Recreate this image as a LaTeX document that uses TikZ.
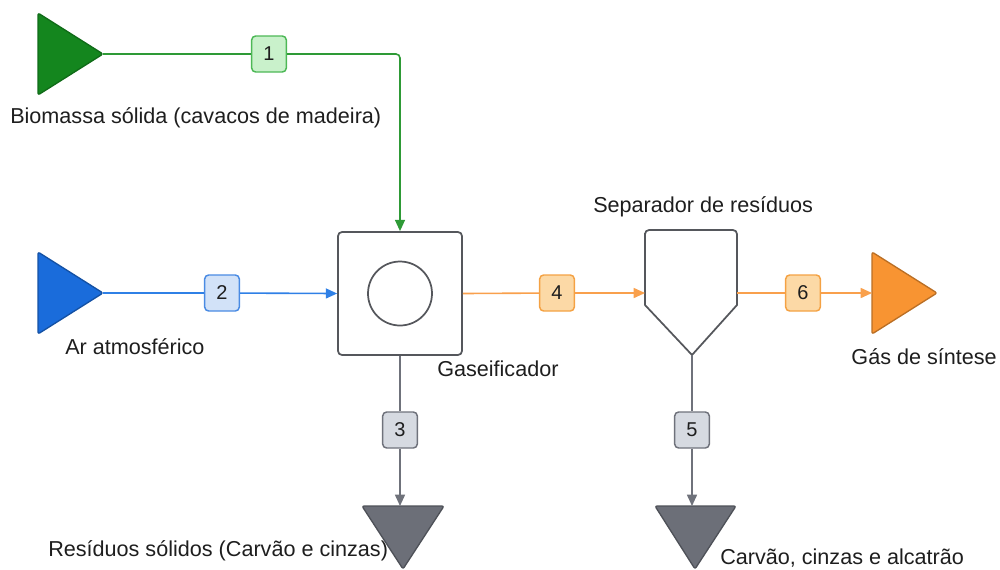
\documentclass[tikz,border=0pt]{standalone}
\usepackage{fontspec}
\setmainfont{Liberation Sans}
\usetikzlibrary{arrows.meta}

\definecolor{grnfill}{HTML}{14861E}
\definecolor{grnline}{HTML}{2E9A36}
\definecolor{grntag}{HTML}{C9F1CB}
\definecolor{grnedge}{HTML}{4DB856}
\definecolor{blufill}{HTML}{1A6CDB}
\definecolor{bluline}{HTML}{2F80E6}
\definecolor{blutag}{HTML}{D2E2F8}
\definecolor{bluedge}{HTML}{4A8BE3}
\definecolor{orgfill}{HTML}{F89432}
\definecolor{orgline}{HTML}{F9A04C}
\definecolor{orgtag}{HTML}{FCD9A6}
\definecolor{orgedge}{HTML}{F4A244}
\definecolor{gryfill}{HTML}{6C6F78}
\definecolor{gryedge}{HTML}{4E5158}
\definecolor{gryline}{HTML}{6F727B}
\definecolor{grytag}{HTML}{D6DAE1}
\definecolor{unitedge}{HTML}{55575C}
\definecolor{txt}{HTML}{1E1E1E}

\begin{document}
\begin{tikzpicture}[x=0.75pt,y=-0.75pt,
  lbl/.style={font=\fontsize{16.2}{19}\selectfont, text=txt, inner sep=0pt},
  tag/.style={rounded corners=3pt, line width=1.1pt, minimum width=26pt,
    minimum height=27pt, inner sep=0pt, font=\fontsize{15}{18}\selectfont, text=txt},
  flow/.style={line width=1.2pt},
  tip/.style={-{Stealth[length=8.5pt,width=7.5pt,inset=0pt]}},
  unit/.style={draw=unitedge, line width=1.3pt, rounded corners=3pt, fill=white},
  src/.style={line width=1pt, rounded corners=1.5pt, line join=round}]
\useasboundingbox (0,0) rectangle (1000,569);

% ---- sources and sinks ----
\filldraw[src, fill=grnfill, draw=grnfill!80!black] (38,13) -- (103,54) -- (38,95) -- cycle;
\coordinate (bio) at (103,54);
\filldraw[src, fill=blufill, draw=blufill!75!black] (38,252) -- (103,293) -- (38,334) -- cycle;
\coordinate (air) at (103,293);
\filldraw[src, fill=orgfill, draw=orgfill!75!black] (872,252) -- (937,293) -- (872,334) -- cycle;
\coordinate (syn) at (872,293);
\filldraw[src, fill=gryfill, draw=gryedge] (362,506) -- (444,506) -- (403,569) -- cycle;
\coordinate (res1) at (400,506);
\filldraw[src, fill=gryfill, draw=gryedge] (655,506) -- (736,506) -- (695,569) -- cycle;
\coordinate (res2) at (692,506);

% ---- process units ----
\node[unit, minimum width=124*0.75pt, minimum height=123*0.75pt] (gas) at (400,293.5) {};
\draw[draw=unitedge, line width=1.3pt] (gas.center) circle[radius=24pt];

\draw[unit, rounded corners=0pt] (645,305) -- (645,233) [rounded corners=3pt] -- (645,230) -- (737,230) [rounded corners=0pt] -- (737,305) -- (692,355) -- cycle;
\coordinate (sepW) at (645,293);
\coordinate (sepE) at (737,293);
\coordinate (sepS) at (692,355);

% ---- labels ----
\node[lbl, anchor=west] (lbio) at (10,118) {Biomassa sólida (cavacos de madeira)};
\node[lbl, anchor=west] (lair) at (65,347) {Ar atmosférico};
\node[lbl, anchor=west] (lgas) at (437,369) {Gaseificador};
\node[lbl, anchor=west] (lsep) at (593,207) {Separador de resíduos};
\node[lbl, anchor=east] (lsyn) at (997,357) {Gás de síntese};
\node[lbl, anchor=west] (lres1) at (48,551) {Resíduos sólidos (Carvão e cinzas)};
\node[lbl, anchor=west] (lres2) at (720,558) {Carvão, cinzas e alcatrão};

% ---- stream tags ----
\node[tag, fill=grntag, draw=grnedge] (s1) at (269,54) {1};
\node[tag, fill=blutag, draw=bluedge] (s2) at (222,293) {2};
\node[tag, fill=grytag, draw=gryline] (s3) at (400,430) {3};
\node[tag, fill=orgtag, draw=orgedge] (s4) at (557,293) {4};
\node[tag, fill=grytag, draw=gryline] (s5) at (692,430) {5};
\node[tag, fill=orgtag, draw=orgedge] (s6) at (803,293) {6};

% ---- streams ----
\draw[flow, grnline] (bio) -- (s1);
\draw[flow, grnline, tip, rounded corners=3pt] (s1.east) -| (gas.north);
\draw[flow, bluline] (air) -- (s2);
\draw[flow, bluline, tip] (s2) -- (gas.west);
\draw[flow, gryline] (gas.south) -- (s3);
\draw[flow, gryline, tip] (s3) -- (res1);
\draw[flow, orgline] (gas.east) -- (s4);
\draw[flow, orgline, tip] (s4) -- (sepW);
\draw[flow, gryline] (sepS) -- (s5);
\draw[flow, gryline, tip] (s5) -- (res2);
\draw[flow, orgline] (sepE) -- (s6);
\draw[flow, orgline, tip] (s6) -- (syn);
\end{tikzpicture}
\end{document}
